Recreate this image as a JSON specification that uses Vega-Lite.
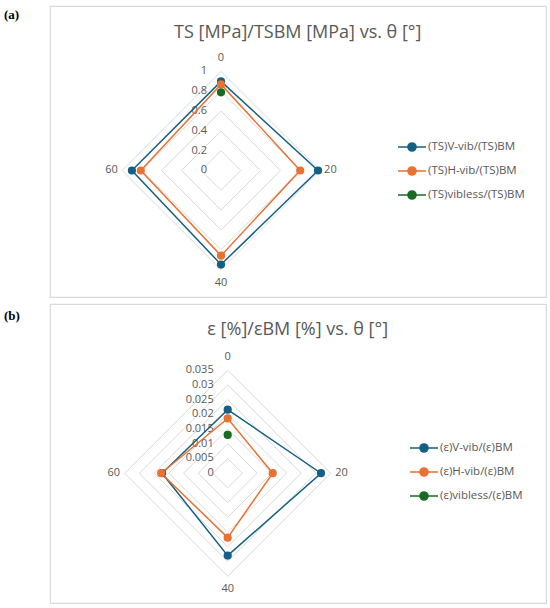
{
  "$schema": "https://vega.github.io/schema/vega-lite/v6.json",
  "background": "white",
  "padding": {"left": 3, "top": 5, "right": 0, "bottom": 0},
  "datasets": {
    "ts": [
      {"series": "(TS)V-vib/(TS)BM", "theta": 0, "value": 0.90},
      {"series": "(TS)V-vib/(TS)BM", "theta": 20, "value": 0.98},
      {"series": "(TS)V-vib/(TS)BM", "theta": 40, "value": 0.95},
      {"series": "(TS)V-vib/(TS)BM", "theta": 60, "value": 0.90},
      {"series": "(TS)H-vib/(TS)BM", "theta": 0, "value": 0.87},
      {"series": "(TS)H-vib/(TS)BM", "theta": 20, "value": 0.80},
      {"series": "(TS)H-vib/(TS)BM", "theta": 40, "value": 0.86},
      {"series": "(TS)H-vib/(TS)BM", "theta": 60, "value": 0.81},
      {"series": "(TS)vibless/(TS)BM", "theta": 0, "value": 0.79}
    ],
    "eps": [
      {"series": "(ε)V-vib/(ε)BM", "theta": 0, "value": 0.0216},
      {"series": "(ε)V-vib/(ε)BM", "theta": 20, "value": 0.0317},
      {"series": "(ε)V-vib/(ε)BM", "theta": 40, "value": 0.0280},
      {"series": "(ε)V-vib/(ε)BM", "theta": 60, "value": 0.0223},
      {"series": "(ε)H-vib/(ε)BM", "theta": 0, "value": 0.0186},
      {"series": "(ε)H-vib/(ε)BM", "theta": 20, "value": 0.0153},
      {"series": "(ε)H-vib/(ε)BM", "theta": 40, "value": 0.0219},
      {"series": "(ε)H-vib/(ε)BM", "theta": 60, "value": 0.0226},
      {"series": "(ε)vibless/(ε)BM", "theta": 0, "value": 0.0130}
    ],
    "ringsA": [
      {"value": 0, "label": "0", "theta": [0, 20, 40, 60]},
      {"value": 0.2, "label": "0.2", "theta": [0, 20, 40, 60]},
      {"value": 0.4, "label": "0.4", "theta": [0, 20, 40, 60]},
      {"value": 0.6, "label": "0.6", "theta": [0, 20, 40, 60]},
      {"value": 0.8, "label": "0.8", "theta": [0, 20, 40, 60]},
      {"value": 1, "label": "1", "theta": [0, 20, 40, 60]}
    ],
    "ringsB": [
      {"value": 0, "label": "0", "theta": [0, 20, 40, 60]},
      {"value": 0.005, "label": "0.005", "theta": [0, 20, 40, 60]},
      {"value": 0.01, "label": "0.01", "theta": [0, 20, 40, 60]},
      {"value": 0.015, "label": "0.015", "theta": [0, 20, 40, 60]},
      {"value": 0.02, "label": "0.02", "theta": [0, 20, 40, 60]},
      {"value": 0.025, "label": "0.025", "theta": [0, 20, 40, 60]},
      {"value": 0.03, "label": "0.03", "theta": [0, 20, 40, 60]},
      {"value": 0.035, "label": "0.035", "theta": [0, 20, 40, 60]}
    ],
    "angles": [
      {"theta": 0}, {"theta": 20}, {"theta": 40}, {"theta": 60}
    ]
  },
  "vconcat": [
    {
      "width": 496,
      "height": 291,
      "encoding": {
        "x": {"field": "x", "type": "quantitative", "axis": null,
              "scale": {"domain": [-1.7273, 3.2828], "nice": false, "zero": false}},
        "y": {"field": "y", "type": "quantitative", "axis": null,
              "scale": {"domain": [-1.2778, 1.6616], "nice": false, "zero": false}}
      },
      "layer": [
        {
          "data": {"name": "ringsA"},
          "transform": [
            {"flatten": ["theta"]},
            {"calculate": "datum.value * sin(datum.theta * PI / 40)", "as": "x"},
            {"calculate": "datum.value * cos(datum.theta * PI / 40)", "as": "y"}
          ],
          "mark": {"type": "line", "interpolate": "linear-closed", "stroke": "#d9d9d9", "strokeWidth": 1},
          "encoding": {
            "detail": {"field": "value", "type": "nominal"},
            "order": {"field": "theta", "type": "quantitative"}
          }
        },
        {
          "data": {"name": "ringsA"},
          "transform": [
            {"calculate": "0", "as": "x"},
            {"calculate": "datum.value", "as": "y"}
          ],
          "mark": {"type": "text", "align": "right", "baseline": "middle", "dx": -14,
                   "font": "Open Sans", "fontSize": 11, "color": "#595959"},
          "encoding": {"text": {"field": "label", "type": "nominal"}}
        },
        {
          "data": {"name": "angles"},
          "transform": [
            {"calculate": "(datum.theta % 40 == 0 ? 1.135 : 1.105) * sin(datum.theta * PI / 40)", "as": "x"},
            {"calculate": "(datum.theta % 40 == 0 ? 1.135 : 1.105) * cos(datum.theta * PI / 40)", "as": "y"}
          ],
          "mark": {"type": "text", "align": "center", "baseline": "middle",
                   "font": "Open Sans", "fontSize": 11, "color": "#595959"},
          "encoding": {"text": {"field": "theta", "type": "nominal"}}
        },
        {
          "data": {"name": "ts"},
          "transform": [
            {"calculate": "datum.value * sin(datum.theta * PI / 40)", "as": "x"},
            {"calculate": "datum.value * cos(datum.theta * PI / 40)", "as": "y"}
          ],
          "encoding": {
            "stroke": {
              "field": "series", "type": "nominal",
              "scale": {
                "domain": ["(TS)V-vib/(TS)BM", "(TS)H-vib/(TS)BM", "(TS)vibless/(TS)BM"],
                "range": ["#156082", "#E97132", "#196B24"]
              },
              "legend": {
                "orient": "none", "legendX": 348, "legendY": 126, "title": null,
                "padding": 0, "rowPadding": 1, "labelOffset": 1, "symbolOffset": -1,
                "labelFont": "Open Sans", "labelFontSize": 11.5, "labelColor": "#595959",
                "symbolType": "M-1,0L1,0M0.29,0A0.29,0.29,0,1,1,-0.29,0A0.29,0.29,0,1,1,0.29,0Z",
                "symbolSize": 784
              }
            }
          },
          "layer": [
            {
              "mark": {"type": "line", "interpolate": "linear-closed"},
              "encoding": {
                "order": {"field": "theta", "type": "quantitative"},
                "strokeWidth": {
                  "field": "series", "type": "nominal",
                  "scale": {
                    "domain": ["(TS)V-vib/(TS)BM", "(TS)H-vib/(TS)BM", "(TS)vibless/(TS)BM"],
                    "range": [1.5, 1.5, 3.5]
                  },
                  "legend": {
                    "orient": "none", "legendX": 348, "legendY": 126, "title": null,
                    "padding": 0, "rowPadding": 1, "labelOffset": 1, "symbolOffset": -1,
                    "labelFont": "Open Sans", "labelFontSize": 11.5, "labelColor": "#595959",
                    "symbolType": "M-1,0L1,0M0.29,0A0.29,0.29,0,1,1,-0.29,0A0.29,0.29,0,1,1,0.29,0Z",
                    "symbolSize": 784
                  }
                }
              }
            },
            {
              "mark": {"type": "point", "filled": true, "size": 45, "strokeWidth": 1.5, "opacity": 1},
              "encoding": {
                "fill": {
                  "field": "series", "type": "nominal",
                  "scale": {
                    "domain": ["(TS)V-vib/(TS)BM", "(TS)H-vib/(TS)BM", "(TS)vibless/(TS)BM"],
                    "range": ["#156082", "#E97132", "#196B24"]
                  },
                  "legend": {
                    "orient": "none", "legendX": 348, "legendY": 126, "title": null,
                    "padding": 0, "rowPadding": 1, "labelOffset": 1, "symbolOffset": -1,
                    "labelFont": "Open Sans", "labelFontSize": 11.5, "labelColor": "#595959",
                    "symbolType": "M-1,0L1,0M0.29,0A0.29,0.29,0,1,1,-0.29,0A0.29,0.29,0,1,1,0.29,0Z",
                    "symbolSize": 784
                  }
                }
              }
            }
          ]
        },
        {
          "data": {"values": [{"t": "TS [MPa]/TSBM [MPa] vs. θ [°]"}]},
          "transform": [
            {"calculate": "0.775", "as": "x"},
            {"calculate": "1.3434", "as": "y"}
          ],
          "mark": {"type": "text", "align": "center", "baseline": "alphabetic",
                   "font": "Open Sans", "fontSize": 18, "color": "#595959"},
          "encoding": {"text": {"field": "t", "type": "nominal"}}
        },
        {
          "data": {"values": [{"t": "(a)"}]},
          "transform": [
            {"calculate": "-2.192", "as": "x"},
            {"calculate": "1.5707", "as": "y"}
          ],
          "mark": {"type": "text", "align": "left", "baseline": "middle",
                   "font": "Liberation Serif", "fontWeight": "bold", "fontSize": 13, "color": "black"},
          "encoding": {"text": {"field": "t", "type": "nominal"}}
        }
      ]
    },
    {
      "width": 496,
      "height": 299,
      "encoding": {
        "x": {"field": "x", "type": "quantitative", "axis": null,
              "scale": {"domain": [-0.06038, 0.10816], "nice": false, "zero": false}},
        "y": {"field": "y", "type": "quantitative", "axis": null,
              "scale": {"domain": [-0.0441, 0.05749], "nice": false, "zero": false}}
      },
      "layer": [
        {
          "data": {"name": "ringsB"},
          "transform": [
            {"flatten": ["theta"]},
            {"calculate": "datum.value * sin(datum.theta * PI / 40)", "as": "x"},
            {"calculate": "datum.value * cos(datum.theta * PI / 40)", "as": "y"}
          ],
          "mark": {"type": "line", "interpolate": "linear-closed", "stroke": "#d9d9d9", "strokeWidth": 1},
          "encoding": {
            "detail": {"field": "value", "type": "nominal"},
            "order": {"field": "theta", "type": "quantitative"}
          }
        },
        {
          "data": {"name": "ringsB"},
          "transform": [
            {"calculate": "0", "as": "x"},
            {"calculate": "datum.value", "as": "y"}
          ],
          "mark": {"type": "text", "align": "right", "baseline": "middle", "dx": -14,
                   "font": "Open Sans", "fontSize": 11, "color": "#595959"},
          "encoding": {"text": {"field": "label", "type": "nominal"}}
        },
        {
          "data": {"name": "angles"},
          "transform": [
            {"calculate": "0.035 * (datum.theta % 40 == 0 ? 1.125 : 1.105) * sin(datum.theta * PI / 40)", "as": "x"},
            {"calculate": "0.035 * (datum.theta % 40 == 0 ? 1.125 : 1.105) * cos(datum.theta * PI / 40)", "as": "y"}
          ],
          "mark": {"type": "text", "align": "center", "baseline": "middle",
                   "font": "Open Sans", "fontSize": 11, "color": "#595959"},
          "encoding": {"text": {"field": "theta", "type": "nominal"}}
        },
        {
          "data": {"name": "eps"},
          "transform": [
            {"calculate": "datum.value * sin(datum.theta * PI / 40)", "as": "x"},
            {"calculate": "datum.value * cos(datum.theta * PI / 40)", "as": "y"}
          ],
          "encoding": {
            "stroke": {
              "field": "series", "type": "nominal",
              "scale": {
                "domain": ["(ε)V-vib/(ε)BM", "(ε)H-vib/(ε)BM", "(ε)vibless/(ε)BM"],
                "range": ["#156082", "#E97132", "#196B24"]
              },
              "legend": {
                "orient": "none", "legendX": 361, "legendY": 129, "title": null,
                "padding": 0, "rowPadding": 1, "labelOffset": 1, "symbolOffset": -2,
                "labelFont": "Open Sans", "labelFontSize": 11.5, "labelColor": "#595959",
                "symbolType": "M-1,0L1,0M0.29,0A0.29,0.29,0,1,1,-0.29,0A0.29,0.29,0,1,1,0.29,0Z",
                "symbolSize": 784
              }
            }
          },
          "layer": [
            {
              "mark": {"type": "line", "interpolate": "linear-closed"},
              "encoding": {
                "order": {"field": "theta", "type": "quantitative"},
                "strokeWidth": {
                  "field": "series", "type": "nominal",
                  "scale": {
                    "domain": ["(ε)V-vib/(ε)BM", "(ε)H-vib/(ε)BM", "(ε)vibless/(ε)BM"],
                    "range": [1.5, 1.5, 3.5]
                  },
                  "legend": {
                    "orient": "none", "legendX": 361, "legendY": 129, "title": null,
                    "padding": 0, "rowPadding": 1, "labelOffset": 1, "symbolOffset": -2,
                    "labelFont": "Open Sans", "labelFontSize": 11.5, "labelColor": "#595959",
                    "symbolType": "M-1,0L1,0M0.29,0A0.29,0.29,0,1,1,-0.29,0A0.29,0.29,0,1,1,0.29,0Z",
                    "symbolSize": 784
                  }
                }
              }
            },
            {
              "mark": {"type": "point", "filled": true, "size": 45, "strokeWidth": 1.5, "opacity": 1},
              "encoding": {
                "fill": {
                  "field": "series", "type": "nominal",
                  "scale": {
                    "domain": ["(ε)V-vib/(ε)BM", "(ε)H-vib/(ε)BM", "(ε)vibless/(ε)BM"],
                    "range": ["#156082", "#E97132", "#196B24"]
                  },
                  "legend": {
                    "orient": "none", "legendX": 361, "legendY": 129, "title": null,
                    "padding": 0, "rowPadding": 1, "labelOffset": 1, "symbolOffset": -2,
                    "labelFont": "Open Sans", "labelFontSize": 11.5, "labelColor": "#595959",
                    "symbolType": "M-1,0L1,0M0.29,0A0.29,0.29,0,1,1,-0.29,0A0.29,0.29,0,1,1,0.29,0Z",
                    "symbolSize": 784
                  }
                }
              }
            }
          ]
        },
        {
          "data": {"values": [{"t": "ε [%]/εBM [%] vs. θ [°]"}]},
          "transform": [
            {"calculate": "0.02379", "as": "x"},
            {"calculate": "0.04679", "as": "y"}
          ],
          "mark": {"type": "text", "align": "center", "baseline": "alphabetic",
                   "font": "Open Sans", "fontSize": 18, "color": "#595959"},
          "encoding": {"text": {"field": "t", "type": "nominal"}}
        },
        {
          "data": {"values": [{"t": "(b)"}]},
          "transform": [
            {"calculate": "-0.07601", "as": "x"},
            {"calculate": "0.05325", "as": "y"}
          ],
          "mark": {"type": "text", "align": "left", "baseline": "middle",
                   "font": "Liberation Serif", "fontWeight": "bold", "fontSize": 13, "color": "black"},
          "encoding": {"text": {"field": "t", "type": "nominal"}}
        }
      ]
    }
  ],
  "spacing": 7,
  "bounds": "flush",
  "resolve": {
    "scale": {"stroke": "independent", "fill": "independent", "strokeWidth": "independent"},
    "legend": {"stroke": "independent", "fill": "independent", "strokeWidth": "independent"}
  },
  "config": {
    "view": {"stroke": "#d9d9d9", "strokeWidth": 1.2}
  }
}
